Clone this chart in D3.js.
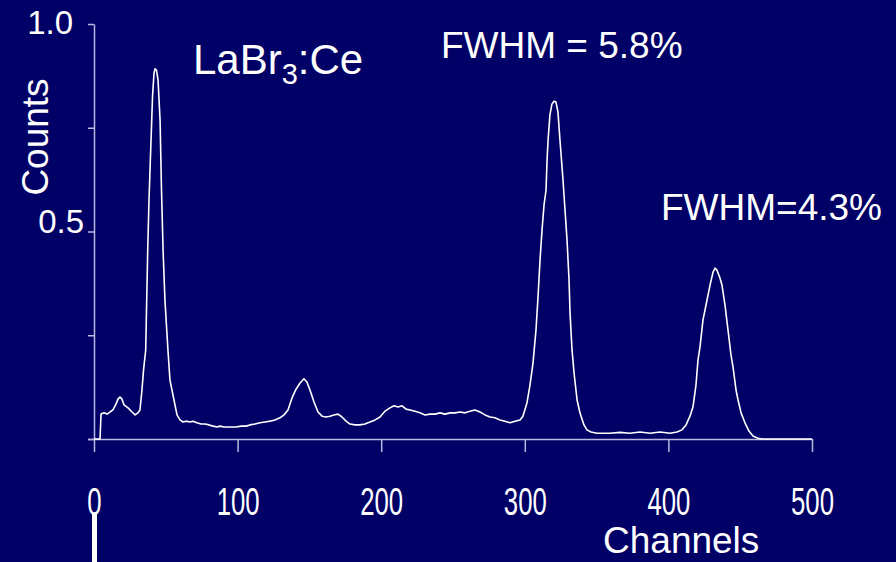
<!DOCTYPE html>
<html>
<head>
<meta charset="utf-8">
<script src="https://cdn.jsdelivr.net/npm/d3@7"></script>
<style>
  html, body { margin: 0; padding: 0; background: #000066; }
  svg { display: block; }
  text { font-family: "Liberation Sans", Arial, sans-serif; fill: #ffffff; }
</style>
</head>
<body>
<svg id="chart" width="896" height="562"></svg>
<script>
// ---- data ----
const channels = [0, 4.2, 4.9, 7.0, 9.1, 11.1, 13.2, 15.3, 16.7, 18.1, 19.5, 20.9, 23.7, 26.5, 28.6, 30.6, 32.0,
  33.4, 34.5, 36.0, 37.4, 38.3, 40.2, 40.8, 41.8, 42.5, 43.5, 44.6, 46.0, 47.0, 48.1, 49.4, 51.5, 52.9, 55.7, 57.1,
  57.8, 59.9, 62.0, 64.1, 66.9, 68.9, 71.7, 74.5, 77.3, 80.1, 82.9, 85.7, 87.7, 90.5, 94.7, 98.9, 102.4, 105.8,
  108.6, 112.1, 115.6, 119.1, 122.6, 126.0, 129.5, 132.3, 135.1, 137.9, 140.7, 143.5, 146.2, 148.3, 150.4, 153.2,
  156.0, 158.8, 161.6, 164.3, 167.1, 169.9, 172.7, 175.5, 178.3, 181.8, 185.2, 188.7, 192.2, 195.7, 199.2, 202.6,
  206.1, 208.9, 211.7, 214.5, 217.3, 220.1, 223.5, 227.0, 230.5, 234.0, 237.5, 241.0, 244.4, 247.9, 251.4, 254.9,
  258.4, 261.8, 265.3, 268.8, 272.3, 275.8, 279.2, 282.7, 286.2, 289.7, 293.2, 296.7, 298.7, 301.5, 303.6, 305.7,
  307.8, 309.2, 310.6, 312.0, 313.4, 314.8, 315.5, 316.2, 317.5, 318.9, 320.3, 321.7, 323.1, 324.5, 326.6, 328.0,
  329.4, 330.8, 331.5, 332.9, 334.3, 336.4, 338.4, 341.2, 343.3, 346.1, 350.3, 359.3, 366.3, 373.3, 380.2, 387.2,
  394.2, 401.1, 406.0, 409.5, 412.3, 415.0, 417.1, 419.2, 420.6, 422.0, 424.1, 426.9, 429.0, 431.1, 432.5, 433.8,
  435.9, 437.3, 439.4, 441.5, 443.6, 445.0, 447.1, 448.5, 450.6, 453.3, 456.1, 458.9, 462.4, 465.2, 500];
const counts = [0, 0, 0.060, 0.063, 0.060, 0.065, 0.070, 0.084, 0.096, 0.101, 0.096, 0.082, 0.075, 0.065, 0.058, 0.063, 0.070,
  0.118, 0.166, 0.214, 0.455, 0.576, 0.769, 0.829, 0.882, 0.892, 0.889, 0.865, 0.769, 0.600, 0.455, 0.335, 0.214, 0.142, 0.094, 0.070,
  0.058, 0.046, 0.041, 0.043, 0.041, 0.043, 0.039, 0.036, 0.036, 0.034, 0.031, 0.029, 0.031, 0.029, 0.029, 0.029, 0.031, 0.031,
  0.034, 0.036, 0.039, 0.041, 0.043, 0.046, 0.051, 0.058, 0.070, 0.099, 0.120, 0.135, 0.145, 0.137, 0.118, 0.089,
  0.065, 0.055, 0.053, 0.055, 0.058, 0.060, 0.053, 0.043, 0.036, 0.034, 0.034, 0.036, 0.041, 0.046, 0.053, 0.067,
  0.075, 0.080, 0.077, 0.080, 0.072, 0.070, 0.067, 0.063, 0.058, 0.060, 0.060, 0.063, 0.060, 0.063, 0.063, 0.065,
  0.063, 0.067, 0.070, 0.065, 0.058, 0.053, 0.051, 0.046, 0.043, 0.039, 0.043, 0.046, 0.055, 0.087, 0.130, 0.183,
  0.263, 0.342, 0.431, 0.504, 0.564, 0.600, 0.672, 0.720, 0.781, 0.807, 0.814, 0.812, 0.788, 0.720, 0.624, 0.552,
  0.480, 0.383, 0.304, 0.214, 0.159, 0.094, 0.063, 0.034, 0.022, 0.017, 0.014, 0.014, 0.016, 0.014, 0.017, 0.014,
  0.017, 0.014, 0.017, 0.022, 0.034, 0.055, 0.077, 0.130, 0.190, 0.222, 0.287, 0.335, 0.371, 0.402, 0.412, 0.407,
  0.388, 0.371, 0.323, 0.263, 0.202, 0.173, 0.118, 0.094, 0.063, 0.039, 0.019, 0.007, 0.002, 0, 0];

const xTicks = [0, 100, 200, 300, 400, 500];
const xTickLabels = ["0", "100", "200", "300", "400", "500"];
const yTicks = [0, 0.25, 0.5, 0.75, 1.0];
const yTickLabels = ["", "", "0.5", "", "1.0"];

const titleMain = "LaBr";
const titleSub = "3";
const titleTail = ":Ce";
const annot1 = "FWHM = 5.8%";
const annot2 = "FWHM=4.3%";
const xTitle = "Channels";
const yTitle = "Counts";

// ---- drawing ----
const svg = d3.select("#chart");
const axisColor = "#b8b8e0";
svg.append("rect").attr("width", 896).attr("height", 562).attr("fill", "#000066");

const x = d3.scaleLinear().domain([0, 500]).range([94, 812]);
const y = d3.scaleLinear().domain([0, 1]).range([439, 24]);

// x axis
const gx = svg.append("g").attr("transform", "translate(0,439)")
  .call(d3.axisBottom(x).tickValues(xTicks).tickSize(13).tickSizeOuter(0)
    .tickFormat((d, i) => xTickLabels[i]));
gx.select(".domain").attr("stroke", axisColor).attr("stroke-width", 1.5).attr("d", "M88,0.5H812");
gx.selectAll(".tick line").attr("stroke", axisColor).attr("stroke-width", 1.5);
gx.selectAll(".tick text")
  .attr("fill", "#ffffff").attr("dy", null).attr("y", 76)
  .attr("transform", "scale(0.66,1)")
  .style("font-family", "'Liberation Sans', Arial, sans-serif")
  .style("font-size", "39px");

// y axis
const gy = svg.append("g").attr("transform", "translate(94,0)")
  .call(d3.axisLeft(y).tickValues(yTicks).tickSize(6).tickSizeOuter(0)
    .tickFormat((d, i) => yTickLabels[i]));
gy.select(".domain").attr("stroke", axisColor).attr("stroke-width", 1.5);
gy.selectAll(".tick line").attr("stroke", axisColor).attr("stroke-width", 1.5);
gy.selectAll(".tick text")
  .attr("fill", "#ffffff")
  .style("font-family", "'Liberation Sans', Arial, sans-serif")
  .style("font-size", "33px")
  .attr("text-anchor", "end")
  .attr("x", (d) => d === 1 ? -21 : -10)
  .attr("dy", null)
  .attr("y", (d) => d === 1 ? 9.5 : 1);

// spectrum line
const pts = channels.map((c, i) => [c, counts[i]]);
svg.append("path").datum(pts)
  .attr("fill", "none").attr("stroke", "#ffffff").attr("stroke-width", 1.6)
  .attr("stroke-linejoin", "round")
  .attr("d", d3.line().x(d => x(d[0])).y(d => y(d[1])));

// white marker below the 0 label
svg.append("rect").attr("x", x(0) - 2).attr("y", 513).attr("width", 5).attr("height", 49).attr("fill", "#ffffff");

// texts
const t = svg.append("text").attr("x", 193).attr("y", 74).style("font-size", "42px");
t.append("tspan").text(titleMain);
t.append("tspan").attr("dy", 10).style("font-size", "29px").text(titleSub);
t.append("tspan").attr("dy", -10).text(titleTail);

svg.append("text").attr("x", 441).attr("y", 58).style("font-size", "37px").text(annot1);
svg.append("text").attr("x", 661).attr("y", 220).style("font-size", "37px").text(annot2);
svg.append("text").attr("x", 603).attr("y", 553).style("font-size", "37px").text(xTitle);
svg.append("text").attr("transform", "translate(47.5,137) rotate(-90)")
  .attr("text-anchor", "middle").style("font-size", "37px").text(yTitle);
</script>
</body>
</html>
